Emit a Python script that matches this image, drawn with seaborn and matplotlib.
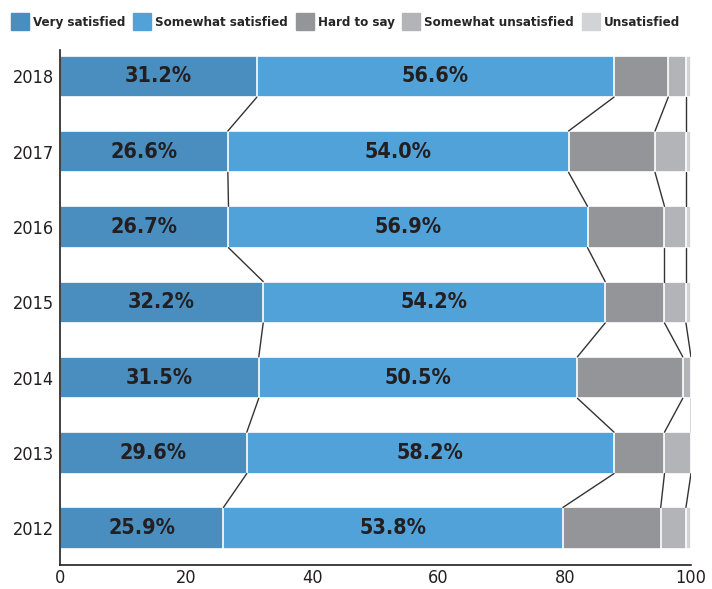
import numpy as np
import pandas as pd
import matplotlib.pyplot as plt
import seaborn as sns

# === Data ===
years = ["2018", "2017", "2016", "2015", "2014", "2013", "2012"]
very_satisfied = [31.2, 26.6, 26.7, 32.2, 31.5, 29.6, 25.9]
somewhat_satisfied = [56.6, 54.0, 56.9, 54.2, 50.5, 58.2, 53.8]
hard_to_say = [8.6, 13.7, 12.2, 9.4, 16.7, 8.0, 15.5]
somewhat_unsatisfied = [2.8, 4.9, 3.4, 3.4, 1.3, 4.2, 4.0]
unsatisfied = [0.8, 0.8, 0.8, 0.8, 0.0, 0.0, 0.8]

series_names = ["Very satisfied", "Somewhat satisfied", "Hard to say",
                "Somewhat unsatisfied", "Unsatisfied"]
colors = ["#4a8ec0", "#52a2da", "#939598", "#b2b4b7", "#d1d3d4"]

sns.set_style("white")
plt.rcParams['font.family'] = ['DejaVu Sans']
plt.rcParams['font.stretch'] = 'condensed'

df = pd.DataFrame({
    "year": years,
    series_names[0]: very_satisfied,
    series_names[1]: somewhat_satisfied,
    series_names[2]: hard_to_say,
    series_names[3]: somewhat_unsatisfied,
    series_names[4]: unsatisfied,
})
cum = df[series_names].cumsum(axis=1)

fig = plt.figure(figsize=(7.12, 5.89), dpi=100)
ax = fig.add_axes([0.0843, 0.0407, 0.8862, 0.8743])

bar_h = 0.55
# draw cumulative bars from longest to shortest so they stack visually
for name, col in reversed(list(zip(series_names, colors))):
    sns.barplot(x=cum[name], y=df["year"], order=years, orient="h", color=col,
                saturation=1, width=bar_h, edgecolor="white", linewidth=1.2, ax=ax)

# connecting lines between bars at segment boundaries
for name in series_names[:4]:
    vals = cum[name].values
    for i in range(len(years) - 1):
        ax.plot([vals[i], vals[i + 1]], [i + bar_h / 2, i + 1 - bar_h / 2],
                color="#333333", lw=1.0, zorder=1)

# percentage labels
for i in range(len(years)):
    ax.text(very_satisfied[i] / 2, i, f"{very_satisfied[i]:.1f}%",
            ha="center", va="center", fontsize=15.5, fontweight="bold", color="#231f20")
    ax.text(very_satisfied[i] + somewhat_satisfied[i] / 2, i, f"{somewhat_satisfied[i]:.1f}%",
            ha="center", va="center", fontsize=15.5, fontweight="bold", color="#231f20")

ax.set_xlim(0, 100)
ax.set_ylim(6.49, -0.35)
ax.set_xticks([0, 20, 40, 60, 80, 100])
ax.set_xlabel("")
ax.set_ylabel("")
ax.tick_params(axis="x", direction="in", length=5, width=1, colors="#231f20",
               labelsize=13, pad=3)
ax.tick_params(axis="y", length=0, labelsize=13, labelcolor="#231f20", pad=4)
for s in ["top", "right"]:
    ax.spines[s].set_visible(False)
for s in ["left", "bottom"]:
    ax.spines[s].set_color("#231f20")
    ax.spines[s].set_linewidth(1.2)

# legend
handles = [plt.Rectangle((0, 0), 1, 1, color=c) for c in colors]
fig.legend(handles, series_names, loc="center left", bbox_to_anchor=(0.016, 0.963),
           ncol=5, frameon=False, handlelength=1.35, handleheight=1.6,
           handletextpad=0.3, columnspacing=0.6, borderpad=0.0, borderaxespad=0.0,
           prop={"size": 9.5, "weight": "bold", "stretch": "condensed"})

plt.savefig("out.png", dpi=100)
plt.close()
